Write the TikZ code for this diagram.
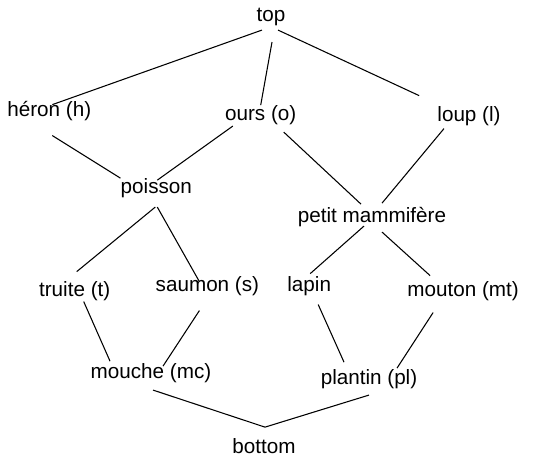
\documentclass[tikz,border=0pt]{standalone}
\usepackage{fontspec}
\setmainfont{Liberation Sans}
\usepackage{tikz}

\begin{document}
\begin{tikzpicture}[
  x=0.75pt, y=-0.75pt,
  termstyle/.style={
        anchor=base,
        inner sep=0pt,
        text height=0.72em,
        text depth=0.21em,
        font=\fontsize{15.5}{18}\selectfont
  }
]

    \useasboundingbox (0,0) rectangle (534,456);

    \node[termstyle] (top) at (271,22) {top};

    \node[termstyle] (heron) at (49.3,116.5) {héron (h)};
    \node[termstyle] (ours) at (260.7,121) {ours (o)};
    \node[termstyle] (loup) at (469,121.5) {loup (l)};

    \node[termstyle] (poisson) at (156.3,193) {poisson};
    \node[termstyle] (petit) at (372,222) {petit mammifère};

    \node[termstyle] (truite) at (74.7,296.5) {truite (t)};
    \node[termstyle] (saumon) at (207.4,291.5) {saumon (s)};
    \node[termstyle] (lapin) at (309.2,291.5) {lapin};
    \node[termstyle] (mouton) at (463.1,296.5) {mouton (mt)};

    \node[termstyle] (mouche) at (151,378) {mouche (mc)};
    \node[termstyle] (plantin) at (369,384) {plantin (pl)};

    \node[termstyle] (bottom) at (264,453) {bottom};

    \draw[thick] ([shift={(-9,5)}]top.south) -- ([shift={(3,-2)}]heron.north);
    \draw[thick] ([shift={(1,17)}]top.south) -- ([shift={(0,-6)}]ours.north);
    \draw[thick] ([shift={(7,5)}]top.south) -- ([shift={(-18,-16)}]loup.north west);

    \draw[thick] ([shift={(3,16)}]heron.south) -- ([shift={(0,-5)}]poisson.north west);
    \draw[thick] ([shift={(8,2)}]ours.south west) -- ([shift={(1,-3)}]poisson.north);
    \draw[thick] ([shift={(23,8)}]ours.south) -- ([shift={(-11,-8)}]petit.north);
    \draw[thick] ([shift={(-25,4)}]loup.south) -- ([shift={(10,-9)}]petit.north);

    \draw[thick] ([shift={(-1,11)}]poisson.south) -- ([shift={(2,-15)}]truite.north);
    \draw[thick] ([shift={(1,11)}]poisson.south) -- ([shift={(-8,0)}]saumon.north);
    \draw[thick] ([shift={(-8,1)}]petit.south) -- ([shift={(1,-8)}]lapin.north);
    \draw[thick] ([shift={(10,7)}]petit.south) -- ([shift={(-33,-11)}]mouton.north);

    \draw[thick] ([shift={(9,2)}]truite.south) -- ([shift={(-41,-7)}]mouche.north);
    \draw[thick] ([shift={(-8,16)}]saumon.south) -- ([shift={(12,-2)}]mouche.north);
    \draw[thick] ([shift={(9,10)}]lapin.south) -- ([shift={(-25,-12)}]plantin.north);
    \draw[thick] ([shift={(-30,13)}]mouton.south) -- ([shift={(28,-6)}]plantin.north);

    \draw[thick] ([shift={(2,9)}]mouche.south) -- ([shift={(1,-16)}]bottom.north);
    \draw[thick] ([shift={(0,8)}]plantin.south) -- ([shift={(1,-16)}]bottom.north);
\end{tikzpicture}
\end{document}
